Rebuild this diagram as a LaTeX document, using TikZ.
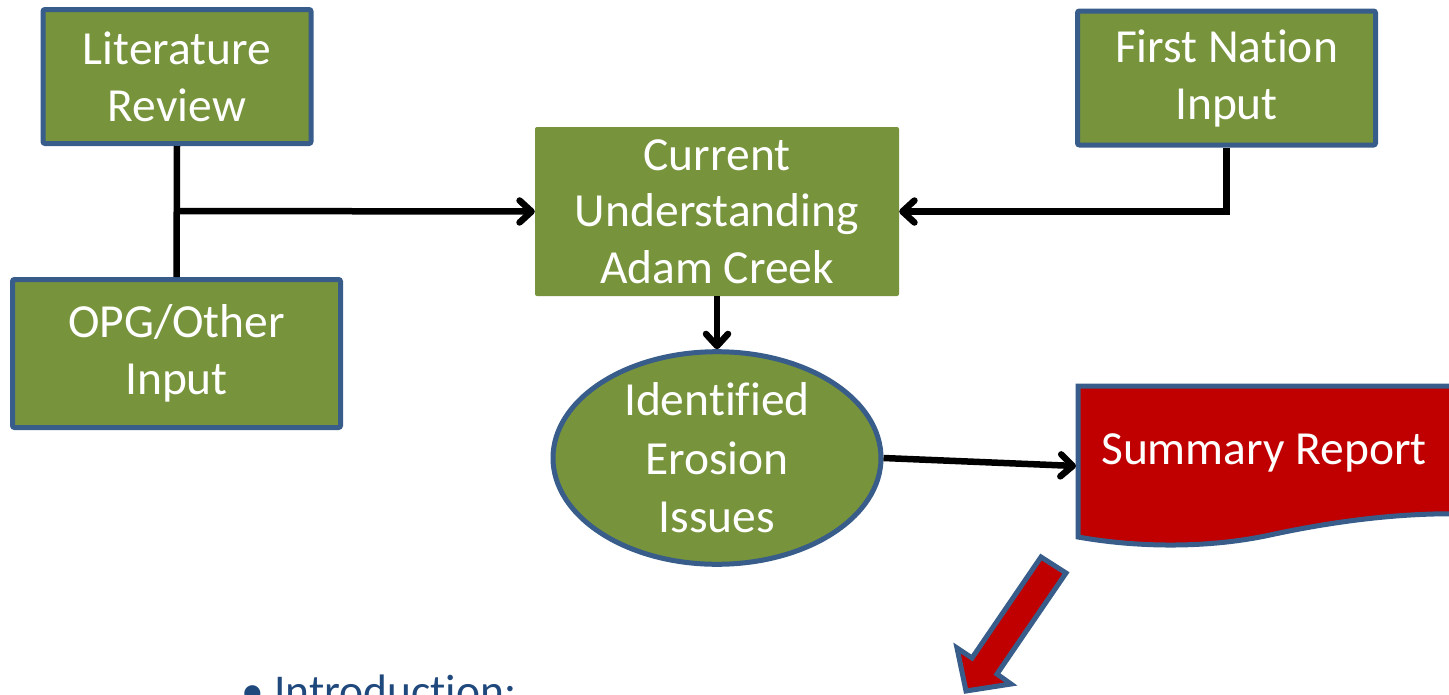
\documentclass[tikz,border=0pt]{standalone}
\usepackage{fontspec}
\setmainfont{Carlito}[Ligatures=NoCommon]
\usetikzlibrary{arrows.meta,shapes.geometric}
\definecolor{boxgreen}{RGB}{119,147,60}
\definecolor{edgeblue}{RGB}{56,93,138}
\definecolor{repred}{RGB}{192,0,0}
\definecolor{bullettext}{RGB}{31,73,125}
\tikzset{
  greenbox/.style={rectangle, rounded corners=2pt, fill=boxgreen, draw=edgeblue, line width=5pt,
    inner sep=0pt, align=center, text=white, font=\fontsize{47.5}{57}\selectfont},
  plainbox/.style={rectangle, rounded corners=2pt, fill=boxgreen,
    inner sep=0pt, align=center, text=white, font=\fontsize{47.5}{56.5}\selectfont},
  greenoval/.style={ellipse, fill=boxgreen, draw=edgeblue, line width=5pt,
    inner sep=0pt, align=center, text=white, font=\fontsize{47.5}{58.5}\selectfont},
  conn/.style={line width=6.5pt, black, line cap=butt},
  conarrow/.style={conn, -{Straight Barb[length=12pt,width=22pt,line cap=round,line join=round]}},
}
\begin{document}
\begin{tikzpicture}[x=1pt,y=-1pt]
\useasboundingbox (0,0) rectangle (1449,694);
\clip (0,0) rectangle (1449,694);
% boxes
\node[greenbox, minimum width=268pt, minimum height=134pt] (lr) at (177,76.5) {Literature\\Review};
\node[greenbox, minimum width=328pt, minimum height=148pt] (opg) at (176.5,353.5) {OPG/Other\\Input};
\node[plainbox, minimum width=364pt, minimum height=169pt] (cu) at (717,211.5) {Current\\Understanding\\Adam Creek};
\node[greenbox, minimum width=298pt, minimum height=134pt] (fn) at (1226.5,78) {First Nation\\Input};
\node[greenoval, minimum width=328pt, minimum height=208pt] (ie) at (717,458) {Identified\\Erosion\\Issues};
% summary report document shape
\path[fill=repred, draw=edgeblue, line width=5pt]
  (1078,386) -- (1470,386) -- (1470,514)
  .. controls (1400,512) and (1330,522) .. (1270,535)
  .. controls (1210,548) and (1140,548) .. (1078,537) -- cycle;
\node[text=white, font=\fontsize{47.5}{57}\selectfont, inner sep=0pt] (sr) at (1264,453) {Summary Report};
\coordinate (srin) at (1076,466);
% connectors
\coordinate (j) at (177,211);
\draw[conn] (lr.south) -- (opg.north);
\draw[conarrow] (j) -- (cu.west);
\draw[conarrow] (fn.south) |- (cu.east);
\draw[conarrow] (cu.south) -- (ie.north);
\draw[conarrow] (ie.east) -- (srin);
% big red arrow
\path[fill=repred, draw=edgeblue, line width=5pt, line join=miter]
  (1041,557) -- (1066,573) -- (997,674) -- (1011,684) -- (966,691) -- (957,648) -- (972,658) -- cycle;
% bullet text
\node[anchor=base west, text=bullettext, font=\fontsize{45.5}{54}\selectfont, inner sep=0pt] (intro) at (241,706) {\textbullet\ Introduction:};
\end{tikzpicture}
\end{document}
